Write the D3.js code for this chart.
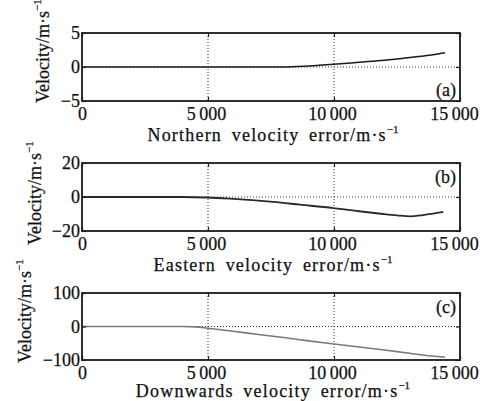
<!DOCTYPE html>
<html>
<head>
<meta charset="utf-8">
<script src="https://cdn.jsdelivr.net/npm/d3@7"></script>
<style>
  html, body { margin: 0; padding: 0; background: #fff; }
  svg text { font-family: "Liberation Serif", "Times New Roman", serif !important; fill: #111; stroke: #111; stroke-width: 0.25px; }
</style>
</head>
<body>
<svg id="grafico" width="486" height="401"></svg>
<script>
// tres paneles de error de velocidad, dibujados con d3 a partir de arrays sueltos

var xTicks = [0, 5000, 10000, 15000];
var xDominio = [0, 15000];

// (a) norte
var norteX = [0, 2000, 4000, 6000, 8000, 9000, 10000, 11000, 12000, 13000, 14000, 14400];
var norteV = [0, 0, 0, 0, 0, 0.15, 0.4, 0.7, 1.0, 1.4, 1.85, 2.1];
var norteTicks = [-5, 0, 5];

// (b) este
var esteX = [0, 2000, 4000, 4950, 5870, 7590, 8650, 9970, 10900, 11960, 12500, 13020, 13540, 14340];
var esteV = [0, 0, 0, -0.3, -1, -2.9, -4.5, -6.5, -8.2, -10, -10.8, -11.4, -10.6, -8.8];
var esteTicks = [-20, 0, 20];

// (c) abajo
var abajoX = [0, 2000, 4000, 4500, 5000, 6000, 7000, 8000, 9000, 10000, 11000, 12000, 13000, 14000, 14400];
var abajoV = [0, 0, 0, -1, -5, -14, -24, -33, -43, -52, -61, -70, -80, -89, -92];
var abajoTicks = [-100, 0, 100];

var etiquetasX = ["Northern velocity error/m\u00b7s", "Eastern velocity error/m\u00b7s", "Downwards velocity error/m\u00b7s"];
var etiquetaY = "Velocity/m\u00b7s";
var letras = ["(a)", "(b)", "(c)"];

// la geometria va aparte de los datos
var paneles = [
  { xs: norteX, vs: norteV, ticks: norteTicks, top: 33, bottom: 101, xlab: 141, ylabX: 49, ylabY: 103, color: "#1a1a1a", ancho: 1.5, letraArriba: false },
  { xs: esteX, vs: esteV, ticks: esteTicks, top: 163, bottom: 231, xlab: 271, ylabX: 41, ylabY: 245, color: "#2a2a2a", ancho: 1.8, letraArriba: true },
  { xs: abajoX, vs: abajoV, ticks: abajoTicks, top: 293, bottom: 360, xlab: 397, ylabX: 31, ylabY: 363, color: "#7a7a7a", ancho: 1.6, letraArriba: true }
];

var IZQ = 82, DER = 460;
var FUENTE = 18;
var SERIF = "'Liberation Serif', 'Times New Roman', serif";

var svg = d3.select("#grafico");
var x = d3.scaleLinear().domain(xDominio).range([IZQ, DER]);

function menos(v) {
  return v < 0 ? "\u2212" + Math.abs(v) : String(v);
}
function miles(v) {
  // separador de miles con espacio fino, como en la figura
  return v >= 1000 ? d3.format(",")(v).replace(/,/g, "\u2009") : String(v);
}

paneles.forEach(function (p, i) {
  var lim = d3.extent(p.ticks);
  var y = d3.scaleLinear().domain(lim).range([p.bottom, p.top]);
  var g = svg.append("g").attr("font-family", SERIF);

  // rejilla punteada en 5000, 10000 y en cero
  g.selectAll("line.vx").data(xTicks.slice(1, -1)).enter().append("line")
    .attr("x1", function (d) { return x(d); }).attr("x2", function (d) { return x(d); })
    .attr("y1", p.top).attr("y2", p.bottom)
    .attr("stroke", "#333").attr("stroke-width", 1).attr("stroke-dasharray", "1,2");
  g.append("line")
    .attr("x1", IZQ).attr("x2", DER).attr("y1", y(0)).attr("y2", y(0))
    .attr("stroke", "#333").attr("stroke-width", 1).attr("stroke-dasharray", "1,2");

  // la curva
  var pts = p.xs.map(function (d, k) { return [d, p.vs[k]]; });
  var linea = d3.line()
    .x(function (d) { return x(d[0]); })
    .y(function (d) { return y(d[1]); })
    .curve(d3.curveMonotoneX);
  g.append("path").datum(pts)
    .attr("d", linea)
    .attr("fill", "none")
    .attr("stroke", p.color)
    .attr("stroke-width", p.ancho);

  // ejes con ticks hacia adentro en los cuatro lados
  var abajo = g.append("g").attr("transform", "translate(0," + p.bottom + ")")
    .call(d3.axisBottom(x).tickValues(xTicks).tickSize(-4).tickPadding(6).tickFormat(miles));
  g.append("g").attr("transform", "translate(0," + p.top + ")")
    .call(d3.axisTop(x).tickValues(xTicks).tickSize(-4).tickFormat(""));
  g.append("g").attr("transform", "translate(" + IZQ + ",0)")
    .call(d3.axisLeft(y).tickValues(p.ticks).tickSize(-4).tickPadding(2).tickFormat(menos));
  g.append("g").attr("transform", "translate(" + DER + ",0)")
    .call(d3.axisRight(y).tickValues(p.ticks).tickSize(-4).tickFormat(""));

  g.selectAll(".domain").remove();
  g.selectAll("g.tick").attr("font-family", SERIF);
  g.selectAll(".tick line").attr("stroke", "#222").attr("stroke-width", 1.2);
  g.selectAll(".tick text")
    .attr("font-family", SERIF)
    .attr("font-size", FUENTE)
    .attr("fill", "#111");
  // el ultimo numero se corre un poco para no salirse
  abajo.selectAll(".tick text").attr("dx", function (d) { return d === 15000 ? "-6" : (d === 0 ? "0" : "-2"); });

  // marco
  g.append("rect")
    .attr("x", IZQ).attr("y", p.top)
    .attr("width", DER - IZQ).attr("height", p.bottom - p.top)
    .attr("fill", "none").attr("stroke", "#1a1a1a").attr("stroke-width", 1.8);

  // letra del panel
  g.append("text")
    .attr("x", DER - 4)
    .attr("y", p.letraArriba ? p.top + 20 : p.bottom - 5)
    .attr("text-anchor", "end")
    .attr("font-size", FUENTE)
    .text(letras[i]);

  // titulo del eje x
  var tx = g.append("text")
    .attr("x", (IZQ + DER) / 2 + 2)
    .attr("y", p.xlab)
    .attr("text-anchor", "middle")
    .attr("font-size", FUENTE)
    .attr("letter-spacing", "1.2")
    .attr("word-spacing", "4");
  tx.append("tspan").text(etiquetasX[i]);
  tx.append("tspan").attr("dy", -8).attr("font-size", 11).attr("letter-spacing", "0").text("\u22121");

  // titulo del eje y, rotado
  var ty = g.append("text")
    .attr("transform", "translate(" + p.ylabX + "," + p.ylabY + ") rotate(-90)")
    .attr("font-size", FUENTE);
  ty.append("tspan").text(etiquetaY);
  ty.append("tspan").attr("dy", -8).attr("font-size", 11).text("\u22121");
});
</script>
</body>
</html>
